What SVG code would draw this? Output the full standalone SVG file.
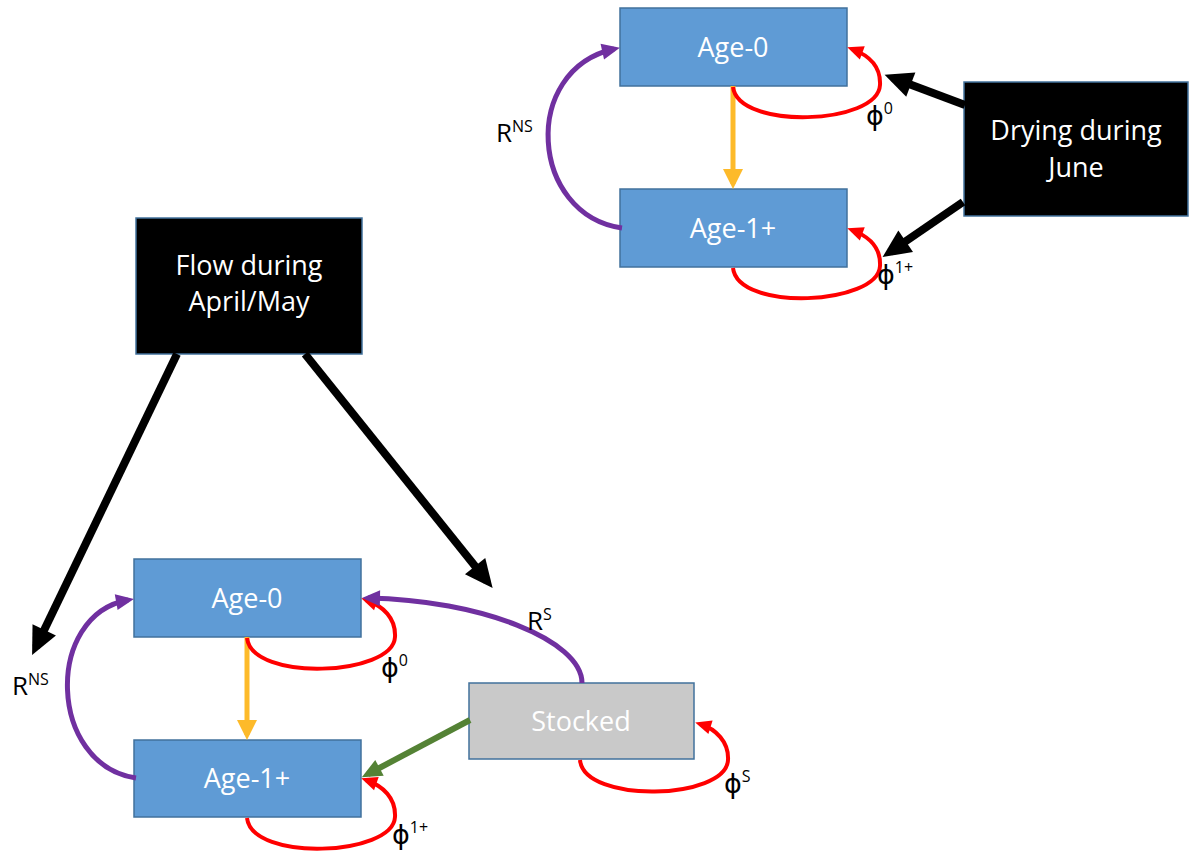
<svg xmlns="http://www.w3.org/2000/svg" width="1190" height="852" viewBox="0 0 1190 852">
<style>
.box{stroke:#41719C;stroke-width:1.5}
.blue{fill:#5F9BD5}
.dark{fill:#000000}
.gray{fill:#C9C9C9}
.nt{font-family:"Open Sans","Liberation Sans",sans-serif;font-size:27px;fill:#FFFFFF;text-anchor:middle}
.lbl{font-family:"Open Sans","Liberation Sans",sans-serif;font-size:26px;fill:#000000}
.phi{font-family:"DejaVu Sans","Noto Sans",sans-serif;font-size:27px;fill:#000000}
.sup{font-family:"Open Sans","Liberation Sans",sans-serif;font-size:16px}
.c{fill:none;stroke-linecap:butt}
.blk{stroke:#000000;stroke-width:8}
.red{stroke:#FF0000;stroke-width:4}
.pur{stroke:#7030A0;stroke-width:5}
.yel{stroke:#FDBA2A;stroke-width:5}
.grn{stroke:#548235;stroke-width:6}
</style>
<defs>
<marker id="hBlk" markerUnits="userSpaceOnUse" markerWidth="28" markerHeight="26" refX="19" refY="13" orient="auto" overflow="visible"><path d="M0,0 L28,13 L0,26 z" fill="#000000"/></marker>
<marker id="hRed" markerUnits="userSpaceOnUse" markerWidth="16" markerHeight="14" refX="11" refY="7" orient="auto" overflow="visible"><path d="M0,0 L16,7 L0,14 z" fill="#FF0000"/></marker>
<marker id="hPur" markerUnits="userSpaceOnUse" markerWidth="18" markerHeight="16" refX="12" refY="8" orient="auto" overflow="visible"><path d="M0,0 L18,8 L0,16 z" fill="#7030A0"/></marker>
<marker id="hYel" markerUnits="userSpaceOnUse" markerWidth="20" markerHeight="20" refX="15" refY="10" orient="auto" overflow="visible"><path d="M0,0 L20,10 L0,20 z" fill="#FDBA2A"/></marker>
<marker id="hGrn" markerUnits="userSpaceOnUse" markerWidth="20" markerHeight="18" refX="13" refY="9" orient="auto" overflow="visible"><path d="M0,0 L20,9 L0,18 z" fill="#548235"/></marker>
</defs>

<g id="top-age0"><rect class="box blue" x="620" y="8" width="227" height="78"/><text class="nt" x="733" y="57">Age-0</text></g>
<g id="top-age1"><rect class="box blue" x="620" y="189" width="227" height="78"/><text class="nt" x="733" y="238">Age-1+</text></g>
<g id="drying"><rect class="box dark" x="964" y="82" width="224" height="134"/><text class="nt" x="1076" y="140">Drying during</text><text class="nt" x="1076" y="177">June</text></g>
<g id="flow"><rect class="box dark" x="136" y="218" width="226" height="136"/><text class="nt" x="249" y="275">Flow during</text><text class="nt" x="249" y="311">April/May</text></g>
<g id="bot-age0"><rect class="box blue" x="134" y="559" width="227" height="78"/><text class="nt" x="247" y="608">Age-0</text></g>
<g id="bot-age1"><rect class="box blue" x="134" y="740" width="227" height="77"/><text class="nt" x="247" y="788">Age-1+</text></g>
<g id="stocked"><rect class="box gray" x="469" y="683" width="225" height="76"/><text class="nt" x="581" y="731">Stocked</text></g>

<g id="connectors">
<path class="c blk" d="M965,105 L893,78" marker-end="url(#hBlk)"/>
<path class="c blk" d="M963,202 L890,252" marker-end="url(#hBlk)"/>
<path class="c blk" d="M177,354 L36,647" marker-end="url(#hBlk)"/>
<path class="c blk" d="M305,354 L487,581" marker-end="url(#hBlk)"/>

<path class="c yel" d="M733,86 L733,184" marker-end="url(#hYel)"/>
<path class="c yel" d="M247,637 L247,735" marker-end="url(#hYel)"/>

<path class="c red" d="M733,87 C738,130 878,125 880,85 C881,66 868,55 852,49" marker-end="url(#hRed)"/>
<path class="c red" d="M733,268 C738,312 878,305 880,266 C881,247 868,236 852,230" marker-end="url(#hRed)"/>
<path class="c red" d="M247,638 C252,682 393,676 395,637 C396,618 383,606 366,600" marker-end="url(#hRed)"/>
<path class="c red" d="M247,818 C252,862 393,856 395,817 C396,798 383,786 366,780" marker-end="url(#hRed)"/>
<path class="c red" d="M580,760 C584,804 726,800 728,760 C729,742 716,729 700,724" marker-end="url(#hRed)"/>

<path class="c pur" d="M622,228 C530,215 520,70 614,49" marker-end="url(#hPur)"/>
<path class="c pur" d="M136,778 C48,765 44,615 128,600" marker-end="url(#hPur)"/>
<path class="c pur" d="M582,683 C582,640 480,600 368,598" marker-end="url(#hPur)"/>

<path class="c grn" d="M470,720 L368,774" marker-end="url(#hGrn)"/>

<text class="lbl" x="496" y="142">R<tspan class="sup" dy="-10">NS</tspan></text>
<text class="lbl" x="12" y="695">R<tspan class="sup" dy="-10">NS</tspan></text>
<text class="lbl" x="527" y="630">R<tspan class="sup" dy="-10">S</tspan></text>
<text class="phi" x="866" y="125">ϕ<tspan class="sup" dy="-11">0</tspan></text>
<text class="phi" x="877" y="284">ϕ<tspan class="sup" dy="-11">1+</tspan></text>
<text class="phi" x="381" y="677">ϕ<tspan class="sup" dy="-11">0</tspan></text>
<text class="phi" x="392" y="844">ϕ<tspan class="sup" dy="-11">1+</tspan></text>
<text class="phi" x="724" y="793">ϕ<tspan class="sup" dy="-11">S</tspan></text>
</g>
</svg>
